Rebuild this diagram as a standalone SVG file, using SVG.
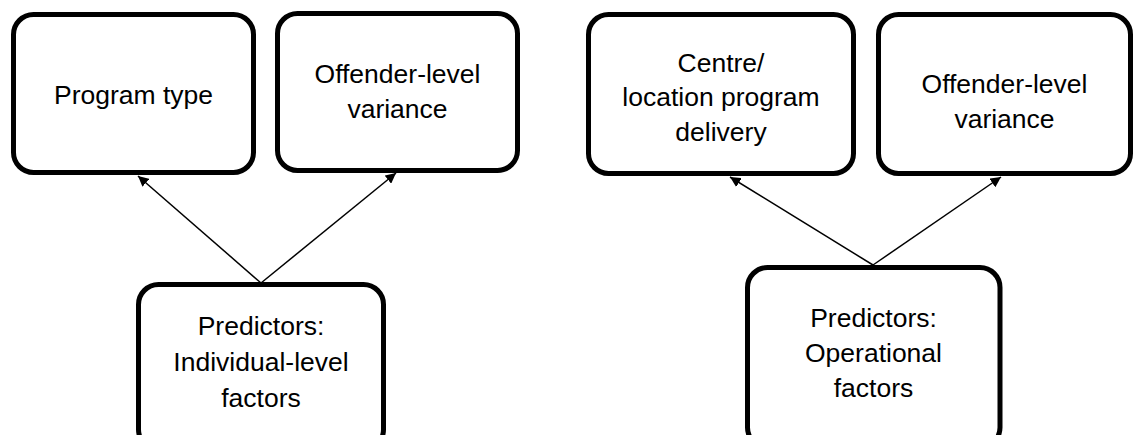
<svg xmlns="http://www.w3.org/2000/svg" width="1133" height="435" viewBox="0 0 1133 435">
  <style>
    .box { fill: #ffffff; stroke: #000000; stroke-width: 5; }
    .lbl { font-family: "Liberation Sans", Arial, sans-serif; font-size: 26.5px; fill: #000000; text-anchor: middle; }
    .conn { stroke: #000000; stroke-width: 1.5; fill: none; marker-end: url(#arrow); }
  </style>
  <defs>
    <marker id="arrow" viewBox="0 0 10 10" refX="10" refY="5" markerWidth="7" markerHeight="7" markerUnits="strokeWidth" orient="auto">
      <path d="M0,0 L10,5 L0,10 Z" fill="#000000"/>
    </marker>
  </defs>
  <rect width="1133" height="435" fill="#ffffff"/>

  <g id="connectors">
    <line class="conn" x1="261" y1="283" x2="138" y2="176"/>
    <line class="conn" x1="261" y1="283" x2="396" y2="173"/>
    <line class="conn" x1="873" y1="265" x2="730" y2="177"/>
    <line class="conn" x1="873" y1="265" x2="1001" y2="177"/>
  </g>

  <g id="node-program-type">
    <rect class="box" x="13.5" y="14.5" width="240" height="158" rx="20"/>
    <text class="lbl" x="133.5" y="104">Program type</text>
  </g>

  <g id="node-offender-variance-left">
    <rect class="box" x="277.5" y="13.5" width="240" height="157" rx="20"/>
    <text class="lbl" x="397.5" y="83">Offender-level</text>
    <text class="lbl" x="397.5" y="118">variance</text>
  </g>

  <g id="node-predictors-individual">
    <rect class="box" x="138.5" y="284.5" width="245" height="165" rx="20"/>
    <text class="lbl" x="261" y="335">Predictors:</text>
    <text class="lbl" x="261" y="371">Individual-level</text>
    <text class="lbl" x="261" y="407">factors</text>
  </g>

  <g id="node-centre-location">
    <rect class="box" x="588.5" y="14.5" width="265" height="159" rx="20"/>
    <text class="lbl" x="721" y="72">Centre/</text>
    <text class="lbl" x="721" y="106">location program</text>
    <text class="lbl" x="721" y="141">delivery</text>
  </g>

  <g id="node-offender-variance-right">
    <rect class="box" x="878.5" y="14.5" width="252" height="159" rx="20"/>
    <text class="lbl" x="1004.5" y="93">Offender-level</text>
    <text class="lbl" x="1004.5" y="128">variance</text>
  </g>

  <g id="node-predictors-operational">
    <rect class="box" x="747.5" y="267.5" width="252.5" height="180" rx="20"/>
    <text class="lbl" x="873.5" y="327">Predictors:</text>
    <text class="lbl" x="873.5" y="362">Operational</text>
    <text class="lbl" x="873.5" y="397">factors</text>
  </g>
</svg>
